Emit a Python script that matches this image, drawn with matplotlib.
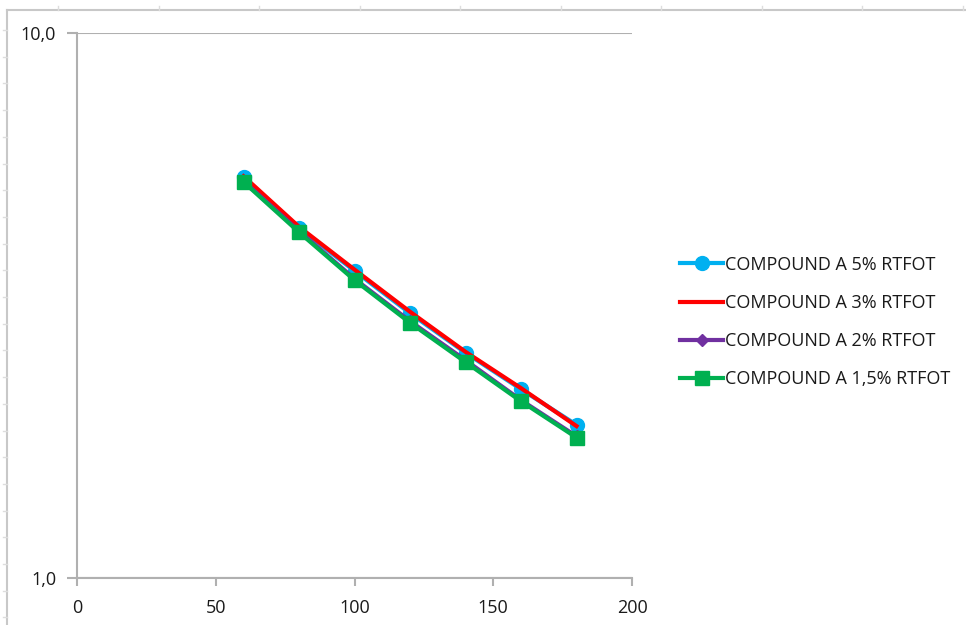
import matplotlib.pyplot as plt
from matplotlib.lines import Line2D
from matplotlib.ticker import FixedLocator, FuncFormatter, NullLocator
import numpy as np

plt.rcParams['font.family'] = ['Open Sans', 'DejaVu Sans']

# temperatures and viscosities
temp = [60, 80, 100, 120, 140, 160, 180]
visc_5 = [5.44, 4.39, 3.66, 3.06, 2.59, 2.22, 1.91]
visc_3 = [5.46, 4.41, 3.68, 3.08, 2.60, 2.23, 1.90]
visc_2 = [5.35, 4.33, 3.54, 2.96, 2.51, 2.12, 1.82]
visc_15 = [5.33, 4.31, 3.52, 2.94, 2.49, 2.11, 1.81]

labels = ['COMPOUND A 5% RTFOT', 'COMPOUND A 3% RTFOT',
          'COMPOUND A 2% RTFOT', 'COMPOUND A 1,5% RTFOT']

W, H = 966, 625
fig = plt.figure(figsize=(W / 100, H / 100), dpi=100)
ax = fig.add_axes([77 / W, 1 - 578 / H, (632 - 77) / W, (578 - 33) / H])

ax.plot(temp, visc_5, color='#00b0f0', lw=3, marker='o', ms=10, label=labels[0], zorder=3)
ax.plot(temp, visc_3, color='#ff0000', lw=3, label=labels[1], zorder=4)
ax.plot(temp, visc_2, color='#7030a0', lw=3, marker='D', ms=6, label=labels[2], zorder=5)
ax.plot(temp, visc_15, color='#00b050', lw=3, marker='s', ms=10, label=labels[3], zorder=6)

ax.set_yscale('log')
ax.set_ylim(1, 10)
ax.set_xlim(0, 200)
ax.yaxis.set_major_locator(FixedLocator([1, 10]))
ax.yaxis.set_minor_locator(NullLocator())
ax.yaxis.set_major_formatter(FuncFormatter(lambda v, p: ('%.1f' % v).replace('.', ',')))
ax.set_xticks([0, 50, 100, 150, 200])

grey = '#b0b0b0'
for s in ['top', 'right']:
    ax.spines[s].set_visible(False)
for s in ['left', 'bottom']:
    ax.spines[s].set_color(grey)
    ax.spines[s].set_linewidth(1.5)
ax.grid(axis='y', which='major', color=grey, lw=1.5)
ax.tick_params(axis='y', length=7, width=1.5, color=grey, labelsize=13, pad=8, labelcolor='#1a1a1a')
ax.tick_params(axis='x', length=6, width=1.5, color=grey, labelsize=13, pad=9, labelcolor='#1a1a1a')

ax.legend(loc='center left', bbox_to_anchor=(680 / W, 1 - 322 / H), bbox_transform=fig.transFigure,
          frameon=False, fontsize=13, handlelength=2.4, handletextpad=0.1,
          labelspacing=1.12, borderaxespad=0, borderpad=0, labelcolor='#1a1a1a')

# sheet border with ruler ticks
fig.add_artist(Line2D([7 / W, 7 / W], [0, 1 - 10 / H], color='#c8c8c8', lw=1.5))
fig.add_artist(Line2D([7 / W, 1], [1 - 10 / H, 1 - 10 / H], color='#c8c8c8', lw=1.5))
for yy in np.arange(30, 625, 26.7):
    fig.add_artist(Line2D([3 / W, 7 / W], [1 - yy / H, 1 - yy / H], color='#dddddd', lw=1))
for xx in np.arange(58, 966, 100.5):
    fig.add_artist(Line2D([xx / W, xx / W], [1 - 6 / H, 1 - 10 / H], color='#dddddd', lw=1))

fig.savefig('out.png', dpi=100)
